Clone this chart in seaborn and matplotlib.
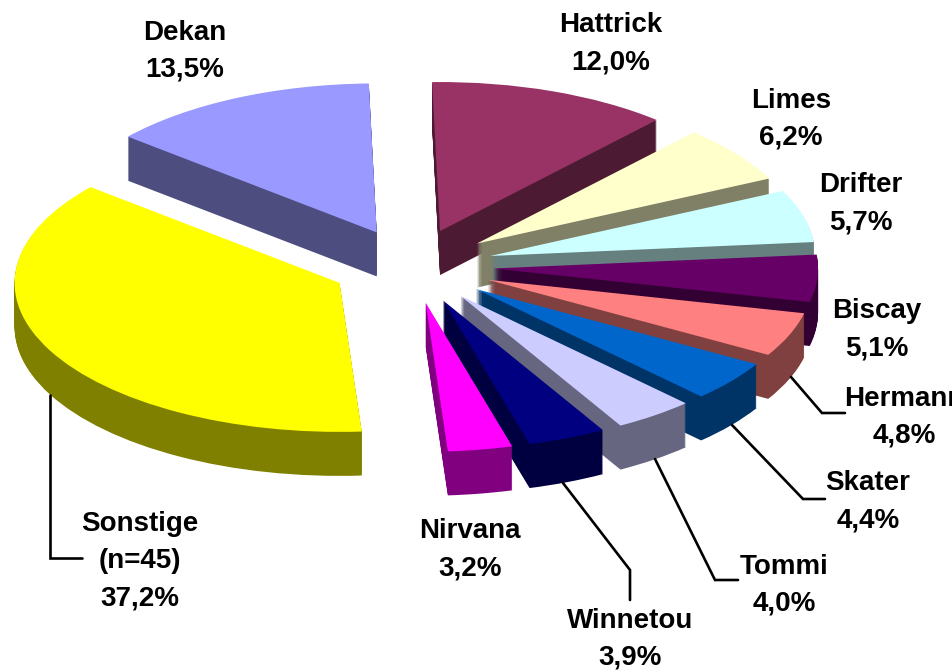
import matplotlib.pyplot as plt
import numpy as np
import seaborn as sns

categories = ["Hattrick", "Limes", "Drifter", "Biscay", "Hermann", "Skater",
              "Tommi", "Winnetou", "Nirvana", "Sonstige", "Dekan"]
shares = [12.0, 6.2, 5.7, 5.1, 4.8, 4.4, 4.0, 3.9, 3.2, 37.2, 13.5]
label_names = ["Hattrick", "Limes", "Drifter", "Biscay", "Hermann", "Skater",
               "Tommi", "Winnetou", "Nirvana", "Sonstige\n(n=45)", "Dekan"]
top_colors = ["#993366", "#FFFFCC", "#CCFFFF", "#660066", "#FF8080", "#0066CC",
              "#CCCCFF", "#000080", "#FF00FF", "#FFFF00", "#9999FF"]

# label centres in reference pixels
label_x = [611, 791, 861, 877, 904, 868, 784, 630, 470, 140, 185]
label_y = [44, 119, 204, 330, 417, 502, 585, 639, 550, 561, 51]

# leader lines in reference pixels
leaders = [
    ([50, 50, 82], [395, 558, 558]),
    ([791, 822, 845], [377, 413, 413]),
    ([732, 803, 825], [425, 499, 499]),
    ([655, 715, 738], [459, 580, 580]),
    ([563, 630, 630], [483, 570, 600]),
]

W, H = 952, 672
CX, CY = 412, 266     # pie centre
RX, RY = 325, 149     # ellipse radii
DEPTH = 44
START = 91.4
EXPLODE = 0.25


def darken(col):
    r, g, b = col
    return (r * 0.5, g * 0.5, b * 0.5)


def draw_pie(ax):
    dark = [darken(c) for c in sns.color_palette(top_colors)]
    mids = START - (np.cumsum(shares) - np.array(shares) / 2) * 3.6
    # slices further back get painted first
    rank = np.argsort(np.argsort(np.sin(np.radians(mids))))
    for level in range(DEPTH, -1, -1):
        cols = top_colors if level == 0 else dark
        wedges, _ = ax.pie(shares, colors=cols, startangle=START, counterclock=False,
                           explode=[EXPLODE] * len(shares), radius=1,
                           center=(0, -level / RY),
                           wedgeprops={"linewidth": 0})
        for w, r in zip(wedges, rank):
            w.set_zorder(100 - r * 5 + (DEPTH - level) / DEPTH)


sns.set_theme(style="white")
plt.rcParams["font.family"] = ["Liberation Sans", "DejaVu Sans"]

fig = plt.figure(figsize=(W / 100, H / 100), dpi=100)
ax = fig.add_axes([0, 0, 1, 1])
draw_pie(ax)
ax.set_aspect("auto")
ax.set_xlim(-CX / RX, (W - CX) / RX)
ax.set_ylim((CY - H) / RY, CY / RY)
ax.axis("off")

overlay = fig.add_axes([0, 0, 1, 1], facecolor="none")
overlay.set_xlim(0, W)
overlay.set_ylim(H, 0)
overlay.axis("off")
for xs, ys in leaders:
    overlay.plot(xs, ys, color="black", lw=1.9, solid_joinstyle="miter")
for name, share, x, y in zip(label_names, shares, label_x, label_y):
    text = f"{name}\n{share:.1f}%".replace(".", ",")
    overlay.text(x, y, text, ha="center", va="center", ma="center", fontsize=20,
                 fontweight="bold", color="black", linespacing=1.55, clip_on=False)

fig.savefig("out.png", dpi=100)
